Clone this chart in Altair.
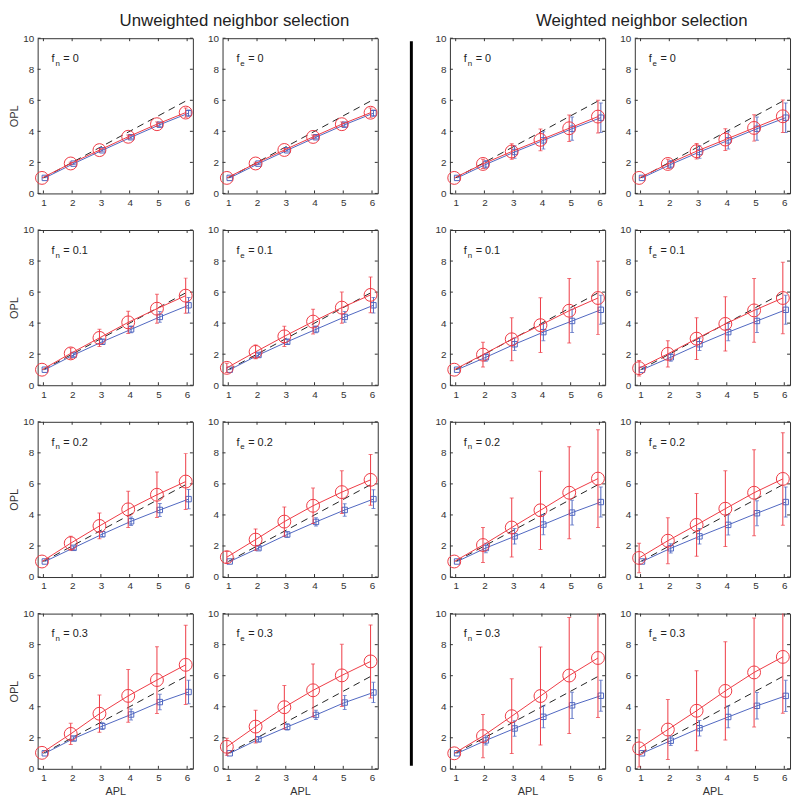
import altair as alt
import pandas as pd

# ---------------- data ----------------
x_vals = [1, 2, 3, 4, 5, 6]
x_ticks = [1, 2, 3, 4, 5, 6]
y_ticks = [0, 2, 4, 6, 8, 10]
ref_x = [1, 6]
ref_y = [1, 6]
f_values = ["0", "0.1", "0.2", "0.3"]
group_titles = ["Unweighted neighbor selection", "Weighted neighbor selection"]

# Unweighted, f_n
u_n0_red = [1.0, 1.93, 2.79, 3.65, 4.46, 5.21]
u_n0_red_err = [0.0, 0.08, 0.10, 0.12, 0.15, 0.30]
u_n0_blue = [1.0, 1.92, 2.78, 3.62, 4.43, 5.17]
u_n0_blue_err = [0.0, 0.05, 0.07, 0.10, 0.13, 0.20]

u_n1_red = [1.0, 2.05, 3.05, 4.05, 4.93, 5.77]
u_n1_red_err = [0.0, 0.35, 0.55, 0.72, 0.93, 1.13]
u_n1_blue = [1.0, 1.95, 2.80, 3.60, 4.40, 5.15]
u_n1_blue_err = [0.0, 0.10, 0.15, 0.22, 0.35, 0.50]

u_n2_red = [1.0, 2.18, 3.29, 4.36, 5.30, 6.15]
u_n2_red_err = [0.0, 0.45, 0.83, 1.17, 1.47, 1.80]
u_n2_blue = [1.0, 1.88, 2.76, 3.59, 4.32, 5.02]
u_n2_blue_err = [0.0, 0.10, 0.17, 0.27, 0.42, 0.62]

u_n3_red = [1.03, 2.25, 3.55, 4.70, 5.72, 6.70]
u_n3_red_err = [0.0, 0.68, 1.20, 1.70, 2.15, 2.55]
u_n3_blue = [1.0, 1.95, 2.75, 3.50, 4.30, 4.95]
u_n3_blue_err = [0.0, 0.12, 0.22, 0.35, 0.50, 0.75]

# Unweighted, f_e
u_e0_red = [1.0, 1.93, 2.80, 3.64, 4.46, 5.20]
u_e0_red_err = [0.0, 0.08, 0.10, 0.12, 0.15, 0.30]
u_e0_blue = [1.0, 1.92, 2.78, 3.62, 4.43, 5.17]
u_e0_blue_err = [0.0, 0.05, 0.07, 0.10, 0.13, 0.20]

u_e1_red = [1.12, 2.15, 3.15, 4.10, 5.00, 5.82]
u_e1_red_err = [0.30, 0.45, 0.65, 0.80, 1.00, 1.15]
u_e1_blue = [1.0, 1.95, 2.80, 3.60, 4.40, 5.15]
u_e1_blue_err = [0.0, 0.10, 0.15, 0.22, 0.35, 0.50]

u_e2_red = [1.28, 2.41, 3.57, 4.59, 5.47, 6.26]
u_e2_red_err = [0.37, 0.69, 0.94, 1.14, 1.37, 1.64]
u_e2_blue = [1.0, 1.86, 2.74, 3.55, 4.32, 5.02]
u_e2_blue_err = [0.0, 0.10, 0.17, 0.27, 0.40, 0.60]

u_e3_red = [1.42, 2.72, 3.97, 5.06, 6.02, 6.92]
u_e3_red_err = [0.55, 1.05, 1.40, 1.70, 2.00, 2.35]
u_e3_blue = [1.0, 1.90, 2.70, 3.47, 4.27, 4.92]
u_e3_blue_err = [0.0, 0.15, 0.20, 0.30, 0.45, 0.65]

# Weighted, f_n
w_n0_red = [1.0, 1.90, 2.70, 3.45, 4.20, 4.95]
w_n0_red_err = [0.0, 0.30, 0.50, 0.70, 0.85, 1.05]
w_n0_blue = [1.0, 1.87, 2.67, 3.42, 4.17, 4.88]
w_n0_blue_err = [0.0, 0.25, 0.40, 0.55, 0.75, 0.95]

w_n1_red = [1.0, 1.97, 2.96, 3.87, 4.80, 5.62]
w_n1_red_err = [0.0, 0.80, 1.38, 1.76, 2.08, 2.36]
w_n1_blue = [1.0, 1.80, 2.64, 3.42, 4.14, 4.86]
w_n1_blue_err = [0.0, 0.25, 0.40, 0.55, 0.75, 0.93]

w_n2_red = [1.0, 2.06, 3.19, 4.30, 5.43, 6.34]
w_n2_red_err = [0.0, 1.13, 1.90, 2.52, 2.97, 3.15]
w_n2_blue = [1.0, 1.87, 2.62, 3.38, 4.15, 4.83]
w_n2_blue_err = [0.0, 0.30, 0.50, 0.65, 0.80, 0.97]

w_n3_red = [1.0, 2.11, 3.39, 4.69, 6.01, 7.14]
w_n3_red_err = [0.0, 1.39, 2.41, 3.16, 3.74, 3.83]
w_n3_blue = [1.0, 1.83, 2.60, 3.35, 4.09, 4.71]
w_n3_blue_err = [0.0, 0.30, 0.50, 0.70, 0.85, 1.00]

# Weighted, f_e
w_e0_red = [1.0, 1.90, 2.72, 3.47, 4.22, 4.97]
w_e0_red_err = [0.0, 0.30, 0.50, 0.70, 0.85, 1.05]
w_e0_blue = [1.0, 1.87, 2.67, 3.42, 4.17, 4.88]
w_e0_blue_err = [0.0, 0.25, 0.40, 0.55, 0.75, 0.95]

w_e1_red = [1.10, 2.02, 3.00, 3.95, 4.82, 5.62]
w_e1_red_err = [0.50, 0.85, 1.35, 1.75, 2.05, 2.30]
w_e1_blue = [1.0, 1.80, 2.64, 3.42, 4.14, 4.86]
w_e1_blue_err = [0.0, 0.25, 0.40, 0.55, 0.75, 0.93]

w_e2_red = [1.23, 2.34, 3.36, 4.40, 5.43, 6.32]
w_e2_red_err = [0.95, 1.48, 2.02, 2.44, 2.77, 2.98]
w_e2_blue = [1.0, 1.85, 2.62, 3.36, 4.11, 4.83]
w_e2_blue_err = [0.0, 0.30, 0.50, 0.65, 0.80, 0.97]

w_e3_red = [1.32, 2.53, 3.74, 5.02, 6.21, 7.21]
w_e3_red_err = [1.20, 1.93, 2.58, 3.17, 3.51, 3.63]
w_e3_blue = [1.0, 1.81, 2.62, 3.34, 4.06, 4.70]
w_e3_blue_err = [0.0, 0.30, 0.50, 0.70, 0.85, 1.00]

# ---------------- style ----------------
W, H = 157, 157
ROW_GAP = 16
RED = "#ee3a44"
BLUE = "#4f66c0"
FRAME = "#333333"
FONT = "Liberation Sans"
XS = alt.Scale(domain=[0.8, 6.2], nice=False, zero=False)
YS = alt.Scale(domain=[0, 10], nice=False)
NOFRAME = alt.ViewBackground(stroke="transparent", strokeWidth=0)


def X(field, show_title):
    return alt.X(field, type="quantitative", scale=XS,
                 axis=alt.Axis(values=x_ticks, title="APL" if show_title else None,
                               domain=False, ticks=False, grid=False))


def Y(field, show_title):
    return alt.Y(field, type="quantitative", scale=YS,
                 axis=alt.Axis(values=y_ticks, title="OPL" if show_title else None,
                               domain=False, ticks=False, grid=False))


def series_df(means, errs, offset):
    return pd.DataFrame({
        "x": [v + offset for v in x_vals],
        "m": means,
        "lo": [m - e for m, e in zip(means, errs)],
        "hi": [m + e for m, e in zip(means, errs)],
        "e": errs,
    })


def panel(red, red_err, blue, blue_err, sub, fval, col, row):
    show_y = col == 0
    show_x = row == 3
    dr = series_df(red, red_err, -0.05)
    db = series_df(blue, blue_err, 0.05)
    ref = pd.DataFrame({"x": ref_x, "m": ref_y})
    xt = pd.DataFrame({"x": x_ticks})
    yt = pd.DataFrame({"m": y_ticks})

    layers = []
    # inward tick marks on all four sides
    layers.append(alt.Chart(xt).mark_rule(color=FRAME, strokeWidth=1).encode(
        x=X("x", show_x), y=alt.value(H), y2=alt.value(H - 3)))
    layers.append(alt.Chart(xt).mark_rule(color=FRAME, strokeWidth=1).encode(
        x=X("x", show_x), y=alt.value(0), y2=alt.value(3)))
    layers.append(alt.Chart(yt).mark_rule(color=FRAME, strokeWidth=1).encode(
        y=Y("m", show_y), x=alt.value(0), x2=alt.value(3)))
    layers.append(alt.Chart(yt).mark_rule(color=FRAME, strokeWidth=1).encode(
        y=Y("m", show_y), x=alt.value(W), x2=alt.value(W - 3)))
    # reference dashed line
    layers.append(alt.Chart(ref).mark_line(color="#222222", strokeWidth=1,
                                           strokeDash=[7, 5]).encode(
        x=X("x", show_x), y=Y("m", show_y)))
    for d, color, shape, size in [(db, BLUE, "square", 30), (dr, RED, "circle", 170)]:
        de = d[d["e"] > 0]
        layers.append(alt.Chart(de).mark_rule(color=color, strokeWidth=1, clip=True).encode(
            x=X("x", show_x), y=Y("lo", show_y), y2="hi"))
        layers.append(alt.Chart(de).mark_tick(color=color, orient="horizontal", size=4,
                                              thickness=1, clip=True).encode(
            x=X("x", show_x), y=Y("hi", show_y)))
        layers.append(alt.Chart(de).mark_tick(color=color, orient="horizontal", size=4,
                                              thickness=1, clip=True).encode(
            x=X("x", show_x), y=Y("lo", show_y)))
        layers.append(alt.Chart(d).mark_line(color=color, strokeWidth=1).encode(
            x=X("x", show_x), y=Y("m", show_y)))
        layers.append(alt.Chart(d).mark_point(shape=shape, size=size, filled=False,
                                              color=color, strokeWidth=1, opacity=1).encode(
            x=X("x", show_x), y=Y("m", show_y)))
    # label  f_n = value
    lab = pd.DataFrame({"a": ["f"], "b": [sub], "c": ["= " + fval]})
    layers.append(alt.Chart(lab).mark_text(align="left", baseline="alphabetic", fontSize=11,
                                           font=FONT, color="#222").encode(
        text="a:N", x=alt.value(14), y=alt.value(24)))
    layers.append(alt.Chart(lab).mark_text(align="left", baseline="alphabetic", fontSize=8,
                                           font=FONT, color="#222").encode(
        text="b:N", x=alt.value(18), y=alt.value(28)))
    layers.append(alt.Chart(lab).mark_text(align="left", baseline="alphabetic", fontSize=11,
                                           font=FONT, color="#222").encode(
        text="c:N", x=alt.value(26), y=alt.value(24)))
    return alt.layer(*layers).properties(width=W, height=H)


U = [
    [(u_n0_red, u_n0_red_err, u_n0_blue, u_n0_blue_err), (u_e0_red, u_e0_red_err, u_e0_blue, u_e0_blue_err)],
    [(u_n1_red, u_n1_red_err, u_n1_blue, u_n1_blue_err), (u_e1_red, u_e1_red_err, u_e1_blue, u_e1_blue_err)],
    [(u_n2_red, u_n2_red_err, u_n2_blue, u_n2_blue_err), (u_e2_red, u_e2_red_err, u_e2_blue, u_e2_blue_err)],
    [(u_n3_red, u_n3_red_err, u_n3_blue, u_n3_blue_err), (u_e3_red, u_e3_red_err, u_e3_blue, u_e3_blue_err)],
]
Wt = [
    [(w_n0_red, w_n0_red_err, w_n0_blue, w_n0_blue_err), (w_e0_red, w_e0_red_err, w_e0_blue, w_e0_blue_err)],
    [(w_n1_red, w_n1_red_err, w_n1_blue, w_n1_blue_err), (w_e1_red, w_e1_red_err, w_e1_blue, w_e1_blue_err)],
    [(w_n2_red, w_n2_red_err, w_n2_blue, w_n2_blue_err), (w_e2_red, w_e2_red_err, w_e2_blue, w_e2_blue_err)],
    [(w_n3_red, w_n3_red_err, w_n3_blue, w_n3_blue_err), (w_e3_red, w_e3_red_err, w_e3_blue, w_e3_blue_err)],
]


def group(data, gi):
    rows = []
    for r in range(4):
        pn = panel(*data[r][0], "n", f_values[r], 0 if gi == 0 else 2, r)
        pe = panel(*data[r][1], "e", f_values[r], 1 if gi == 0 else 3, r)
        rows.append(alt.hconcat(pn, pe, spacing=12))
    return alt.vconcat(*rows, spacing=ROW_GAP)


# header with the two group titles
header = alt.Chart(pd.DataFrame({"t": group_titles, "px": [199, 611]})).mark_text(
    align="center", baseline="top", fontSize=17, font=FONT, color="#222"
).encode(
    text="t:N",
    x=alt.X("px:Q", scale=alt.Scale(domain=[0, 760], range=[0, 760]), axis=None),
    y=alt.value(0),
).properties(width=760, height=12, view=NOFRAME)

# thick vertical separator
SEP_TOP = 3
SEP_LEN = 4 * H + 3 * 35
sep = alt.Chart(pd.DataFrame({"s": [0]})).mark_rule(color="#000000", strokeWidth=3).encode(
    x=alt.value(2), y=alt.value(SEP_TOP), y2=alt.value(SEP_TOP + SEP_LEN)
).properties(width=4, height=SEP_TOP + SEP_LEN, view=NOFRAME)

body = alt.hconcat(alt.hconcat(group(U, 0), sep, spacing=30), group(Wt, 1), spacing=21)

chart = alt.vconcat(header, body, spacing=3).properties(
    padding={"left": 0, "top": 0, "right": 0, "bottom": 0}
).configure_view(
    stroke=FRAME, strokeWidth=1
).configure_axis(
    labelFont=FONT, labelFontSize=10, labelColor="#333", labelPadding=4,
    titleFont=FONT, titleFontSize=11, titleFontWeight="normal", titleColor="#333", titlePadding=3
)

chart.save("out.html", embed_options={"renderer": "svg", "actions": False})
